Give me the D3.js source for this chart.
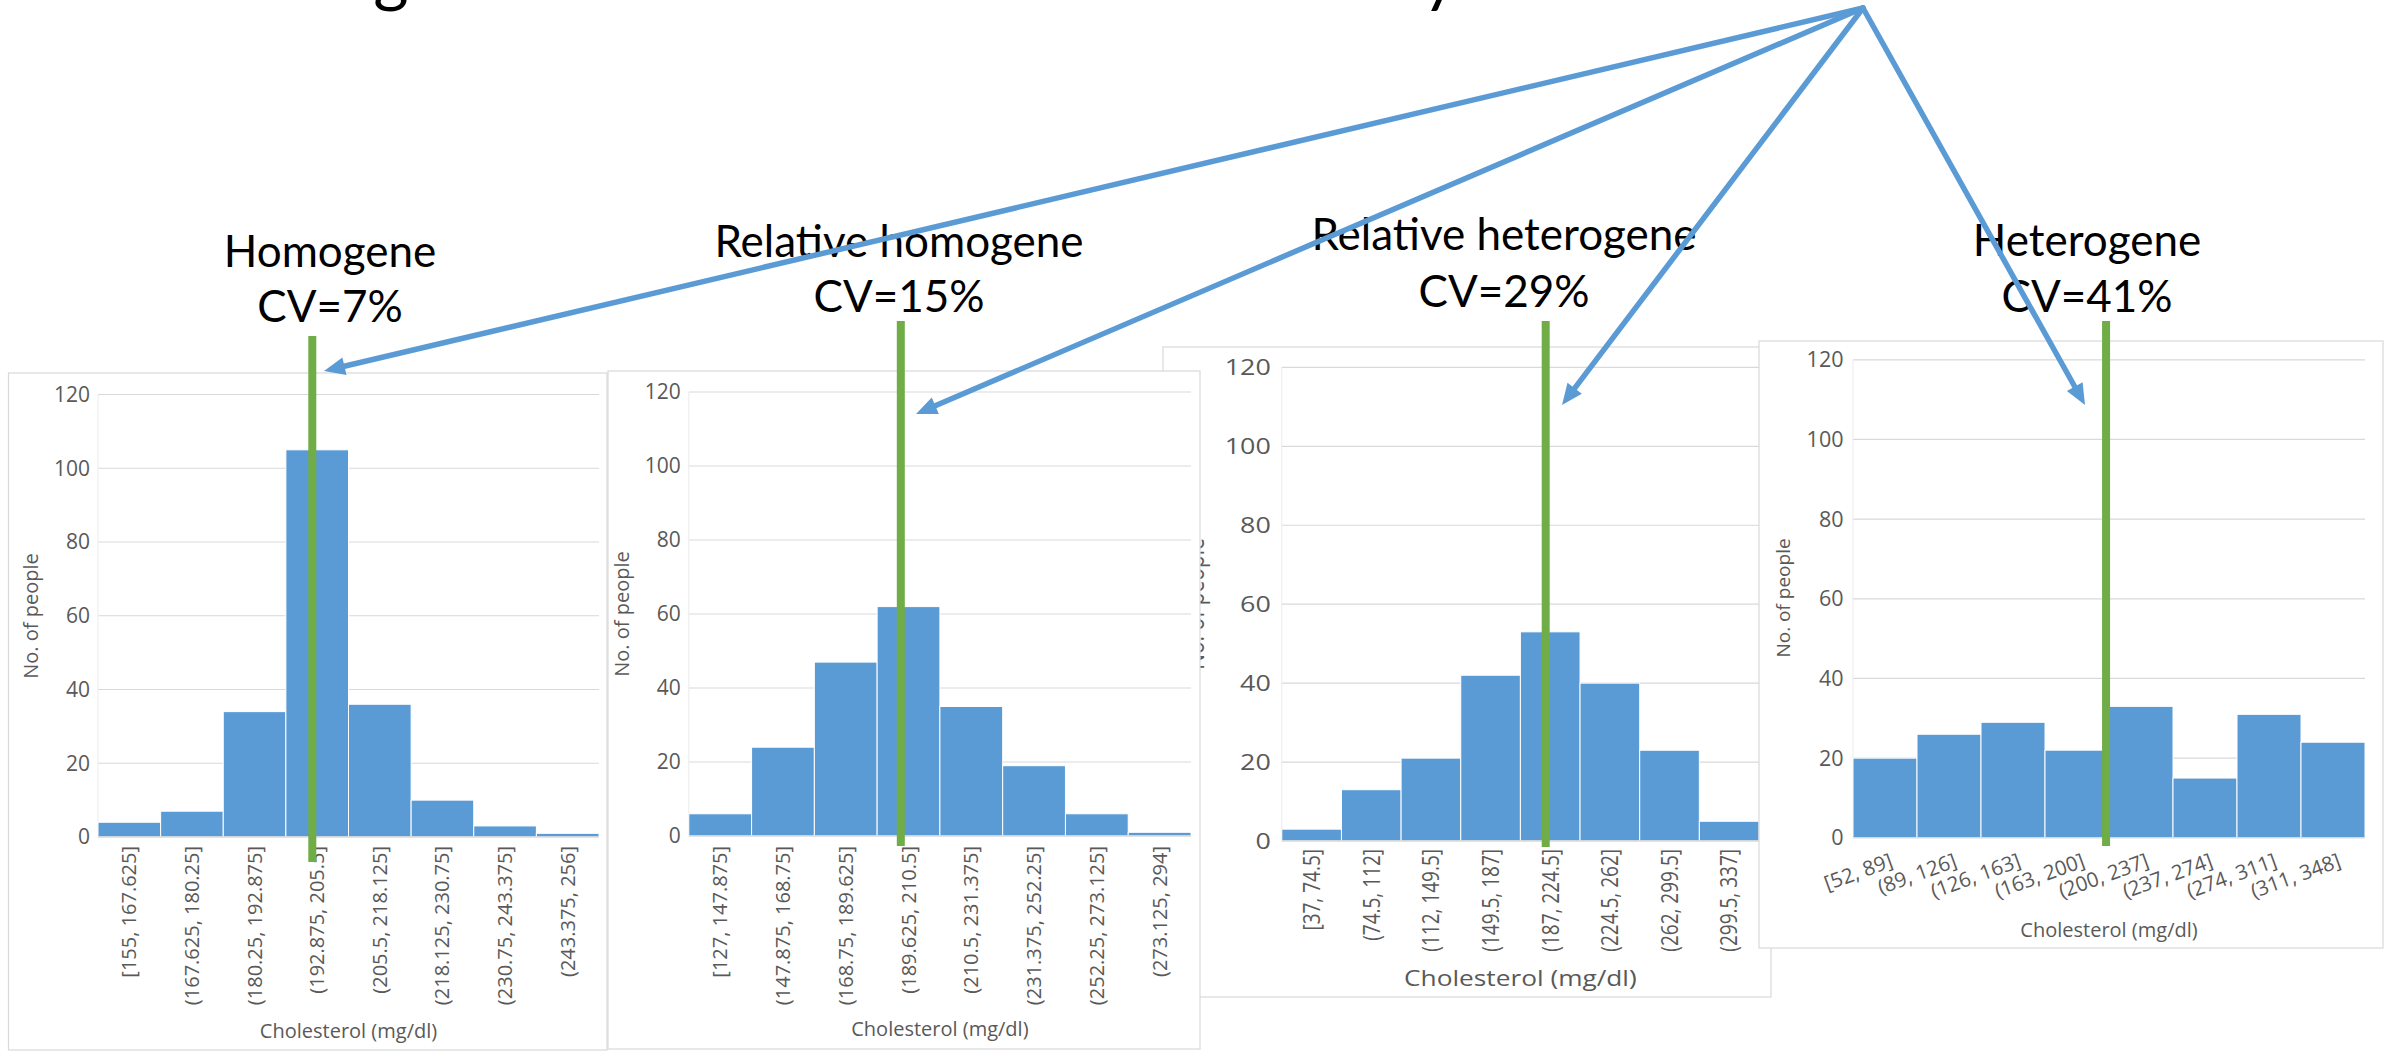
<!DOCTYPE html>
<html><head><meta charset="utf-8">
<script src="https://cdn.jsdelivr.net/npm/d3@7"></script>
<style>html,body{margin:0;padding:0;background:#fff;overflow:hidden}</style>
</head><body>
<svg id="c" width="2394" height="1053" xmlns="http://www.w3.org/2000/svg"></svg>
<script>
// ---------- data ----------
const groupNames = ["Homogene", "Relative homogene", "Relative heterogene", "Heterogene"];
const cvLabels = ["CV=7%", "CV=15%", "CV=29%", "CV=41%"];

const binLabels1 = ["[155, 167.625]", "(167.625, 180.25]", "(180.25, 192.875]", "(192.875, 205.5]", "(205.5, 218.125]", "(218.125, 230.75]", "(230.75, 243.375]", "(243.375, 256]"];
const counts1 = [4, 7, 34, 105, 36, 10, 3, 1];

const binLabels2 = ["[127, 147.875]", "(147.875, 168.75]", "(168.75, 189.625]", "(189.625, 210.5]", "(210.5, 231.375]", "(231.375, 252.25]", "(252.25, 273.125]", "(273.125, 294]"];
const counts2 = [6, 24, 47, 62, 35, 19, 6, 1];

const binLabels3 = ["[37, 74.5]", "(74.5, 112]", "(112, 149.5]", "(149.5, 187]", "(187, 224.5]", "(224.5, 262]", "(262, 299.5]", "(299.5, 337]"];
const counts3 = [3, 13, 21, 42, 53, 40, 23, 5];

const binLabels4 = ["[52, 89]", "(89, 126]", "(126, 163]", "(163, 200]", "(200, 237]", "(237, 274]", "(274, 311]", "(311, 348]"];
const counts4 = [20, 26, 29, 22, 33, 15, 31, 24];

const binRanges = [[155, 256], [127, 294], [37, 337], [52, 348]];
const meanValues = [198.2, 197.5, 202.9, 198.3];
const yTicks = [0, 20, 40, 60, 80, 100, 120];
const yMax = 120;
const xTitle = "Cholesterol (mg/dl)";
const yTitle = "No. of people";

// ---------- layout (positions / styles only) ----------
const C = { bar: "#5b9bd5", green: "#70ad47", grid: "#d9d9d9", text: "#595959", border: "#d9d9d9", arrow: "#5b9bd5" };
const FONT = "'Open Sans', 'Noto Sans', sans-serif";

const layouts = [
  { card: [8.5, 373, 607, 1050], plot: { l: 98, r: 599, t: 394.5, b: 837 }, sx: 1, tickFS: 21, labFS: 20, titleFS: 20, yTitleFS: 20,
    labRot: -90, labOff: 9, xTitleY: 1038, yTitleX: 31, yTitleY: 616, yTitleDy: "0.35em", tickGap: 8, green: [336, 862] },
  { card: [608, 371, 1200, 1049], plot: { l: 688.8, r: 1191, t: 392, b: 836 }, sx: 1, tickFS: 21, labFS: 20, titleFS: 20, yTitleFS: 20,
    labRot: -90, labOff: 10, xTitleY: 1036, yTitleX: 622, yTitleY: 614, yTitleDy: "0.35em", tickGap: 8, green: [321, 846] },
  { card: [1163, 347, 1771, 997], plot: { l: 1281.8, r: 1759, t: 367.4, b: 841 }, sx: 1.25, tickFS: 21.5, labFS: 19, titleFS: 21, yTitleFS: 21,
    labRot: -90, labOff: 8, xTitleY: 986, yTitleX: 1204, yTitleY: 604, yTitleDy: "0", tickGap: 11, green: [321, 847] },
  { card: [1759, 341, 2383, 948], plot: { l: 1853, r: 2365, t: 359.8, b: 837.8 }, sx: 1, tickFS: 21.5, labFS: 20.5, titleFS: 20, yTitleFS: 19,
    labRot: -20, labOff: 15, xTitleY: 937, yTitleX: 1783, yTitleY: 598, yTitleDy: "0.35em", tickGap: 9.5, green: [321, 846] }
];

const headingPos = [
  { name: [330, 267], cv: [330, 322] },
  { name: [899, 257], cv: [899, 312] },
  { name: [1504, 250], cv: [1504, 307] },
  { name: [2087, 256], cv: [2087, 312] }
];
const arrowApex = [1863, 8];
const arrowTips = [[324, 371], [916, 414], [1562, 405], [2085, 405]];

const panelsData = [
  { labels: binLabels1, counts: counts1 },
  { labels: binLabels2, counts: counts2 },
  { labels: binLabels3, counts: counts3 },
  { labels: binLabels4, counts: counts4 }
];

// ---------- drawing ----------
const svg = d3.select("#c");
svg.append("rect").attr("width", 2394).attr("height", 1053).attr("fill", "#fff");

// cut-off title glyphs at the very top (title line lies above the picture)
const topTitle = svg.append("g").attr("font-family", "Lato, sans-serif").attr("font-size", 68).attr("fill", "#000");
topTitle.append("text").attr("x", 391).attr("y", -1).attr("text-anchor", "middle").text("g");
topTitle.append("text").attr("x", 1440).attr("y", -1).attr("text-anchor", "middle").text("y");

function txt(g, x, y, rot, sx, str) {
  return g.append("text")
    .attr("transform", `translate(${x},${y}) scale(${sx},1) rotate(${rot})`)
    .text(str);
}

function drawPanel(i) {
  const L = layouts[i], D = panelsData[i], P = L.plot;
  const g = svg.append("g").attr("font-family", FONT).attr("fill", C.text);
  const [cx0, cy0, cx1, cy1] = L.card;
  g.append("rect").attr("x", cx0).attr("y", cy0).attr("width", cx1 - cx0).attr("height", cy1 - cy0)
    .attr("fill", "#fff").attr("stroke", C.border).attr("stroke-width", 1.2);

  const x = d3.scaleBand().domain(D.labels).range([P.l, P.r]).padding(0);
  const y = d3.scaleLinear().domain([0, yMax]).range([P.b, P.t]);

  // gridlines
  g.append("g").selectAll("line").data(yTicks.filter(t => t > 0)).join("line")
    .attr("x1", P.l).attr("x2", P.r).attr("y1", d => y(d)).attr("y2", d => y(d))
    .attr("stroke", C.grid).attr("stroke-width", 1.2);
  // faint y axis line
  g.append("line").attr("x1", P.l).attr("x2", P.l).attr("y1", y(yMax)).attr("y2", y(0))
    .attr("stroke", "#ececec").attr("stroke-width", 1);

  // bars
  g.append("g").selectAll("rect").data(D.counts).join("rect")
    .attr("x", (d, k) => x(D.labels[k])).attr("width", x.bandwidth())
    .attr("y", d => y(d)).attr("height", d => y(0) - y(d))
    .attr("fill", C.bar).attr("stroke", "#fff").attr("stroke-width", 1);

  // baseline
  g.append("line").attr("x1", P.l).attr("x2", P.r).attr("y1", y(0)).attr("y2", y(0))
    .attr("stroke", C.grid).attr("stroke-width", 1.5);

  // y tick labels
  const tg = g.append("g").attr("font-size", L.tickFS).attr("text-anchor", "end");
  yTicks.forEach(t => {
    txt(tg, P.l - L.tickGap, y(t), 0, L.sx, t).attr("dy", "0.35em");
  });

  // category labels
  const lg = g.append("g").attr("font-size", L.labFS).attr("text-anchor", "end");
  D.labels.forEach(lbl => {
    const cx = x(lbl) + x.bandwidth() / 2;
    if (L.labRot === -90) {
      txt(lg, cx, P.b + L.labOff, -90, L.sx, lbl).attr("dy", "0.35em");
    } else {
      txt(lg, cx + 4, P.b + L.labOff, L.labRot, L.sx, lbl).attr("dy", "0.71em");
    }
  });

  // axis titles
  txt(g, (P.l + P.r) / 2, L.xTitleY, 0, L.sx, xTitle).attr("font-size", L.titleFS).attr("text-anchor", "middle");
  txt(g, L.yTitleX, L.yTitleY, -90, L.sx, yTitle).attr("font-size", L.yTitleFS).attr("text-anchor", "middle").attr("dy", L.yTitleDy);
}

// z-order: panel 3 lowest, then 1, 2, 4
[2, 0, 1, 3].forEach(drawPanel);

// green mean lines
layouts.forEach((L, i) => {
  const m = d3.scaleLinear().domain(binRanges[i]).range([L.plot.l, L.plot.r]);
  svg.append("line").attr("x1", m(meanValues[i])).attr("x2", m(meanValues[i]))
    .attr("y1", L.green[0]).attr("y2", L.green[1])
    .attr("stroke", C.green).attr("stroke-width", 8);
});

// headings
const hg = svg.append("g").attr("font-family", "Lato, 'Open Sans', sans-serif").attr("font-size", 44)
  .attr("fill", "#000").attr("text-anchor", "middle");
groupNames.forEach((n, i) => {
  hg.append("text").attr("x", headingPos[i].name[0]).attr("y", headingPos[i].name[1]).text(n);
  hg.append("text").attr("x", headingPos[i].cv[0]).attr("y", headingPos[i].cv[1]).text(cvLabels[i]);
});

// arrows
const ag = svg.append("g");
arrowTips.forEach(tip => {
  const dx = tip[0] - arrowApex[0], dy = tip[1] - arrowApex[1];
  const len = Math.hypot(dx, dy), ux = dx / len, uy = dy / len;
  const headLen = 21, headW = 9;
  const bx = tip[0] - ux * headLen, by = tip[1] - uy * headLen;
  ag.append("line").attr("x1", arrowApex[0]).attr("y1", arrowApex[1])
    .attr("x2", tip[0] - ux * 12).attr("y2", tip[1] - uy * 12)
    .attr("stroke", C.arrow).attr("stroke-width", 5.5).attr("stroke-linecap", "round");
  ag.append("path")
    .attr("d", `M${tip[0]},${tip[1]} L${bx - uy * headW},${by + ux * headW} L${bx + uy * headW},${by - ux * headW} Z`)
    .attr("fill", C.arrow);
});
</script>
</body></html>
